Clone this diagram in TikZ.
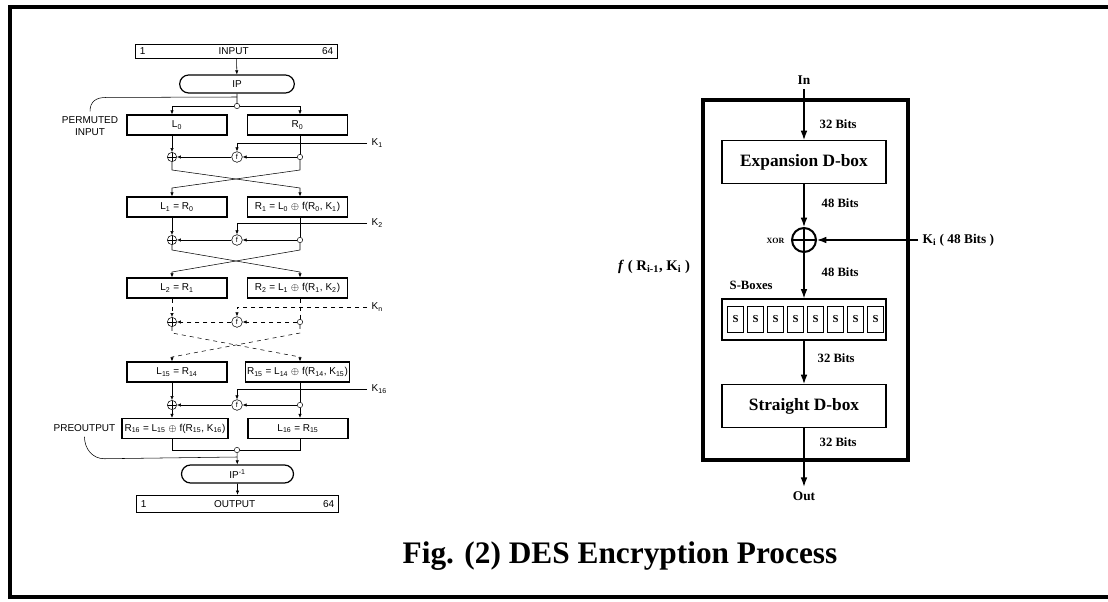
\documentclass[tikz,border=0pt]{standalone}
\usepackage{fontspec}
\setmainfont{Liberation Serif}
\setsansfont{Liberation Sans}
\usetikzlibrary{arrows.meta,shapes.misc}

\begin{document}
\begin{tikzpicture}[x=0.75pt,y=-0.75pt,
  blk/.style={draw, line width=0.9pt, minimum width=75pt, minimum height=15pt, inner sep=1pt, font=\sffamily\fontsize{7.5}{8}\selectfont},
  xr/.style={draw, circle, minimum size=7pt, inner sep=0pt, path picture={\draw (path picture bounding box.north) -- (path picture bounding box.south) (path picture bounding box.west) -- (path picture bounding box.east);}},
  fn/.style={draw, circle, minimum size=8pt, inner sep=0pt, font=\sffamily\fontsize{5.5}{6}\selectfont},
  dot/.style={draw, circle, fill=white, minimum size=4pt, inner sep=0pt},
  lab/.style={font=\sffamily\fontsize{7.5}{9.5}\selectfont},
  sm/.style={-{Latex[length=3pt,width=2.5pt]}},
  big/.style={-{Latex[length=7pt,width=5pt]}, line width=0.9pt},
  dbox/.style={draw, line width=0.9pt, minimum width=123pt, minimum height=32pt, font=\bfseries\fontsize{13}{14}\selectfont},
  bits/.style={anchor=west, font=\bfseries\fontsize{9.5}{10}\selectfont},
  sb/.style={draw, line width=0.9pt, minimum width=12.5pt, minimum height=19pt, inner sep=0pt, font=\bfseries\fontsize{8}{8}\selectfont}]

\useasboundingbox (0,0) rectangle (1108,602);
\draw[line width=3pt] (9.5,7) rectangle (1120,597);

% left: the sixteen rounds
\coordinate (cl) at (172,0);
\coordinate (cr) at (300,0);
\node[blk, minimum width=151pt, minimum height=10pt, text width=145pt] (in) at (236.5,51.5) {1\hfill INPUT\hfill 64};
\node[blk, rounded rectangle, minimum width=88pt, minimum height=13.5pt] (ip) at (237,84) {IP};
\node[dot] (j0) at (237,106) {};
\coordinate (pj) at (237,97);
\node[lab, align=center] (pin) at (90,126) {PERMUTED\\INPUT};

\node[blk] (L0) at (177,125) {L\textsubscript{0}};
\node[blk] (R0) at (297.5,125) {R\textsubscript{0}};
\node[blk] (L1) at (177,207) {L\textsubscript{1} = R\textsubscript{0}};
\node[blk] (R1) at (297.5,207) {R\textsubscript{1} = L\textsubscript{0} $\oplus$ f(R\textsubscript{0}, K\textsubscript{1})};
\node[blk] (L2) at (177,288) {L\textsubscript{2} = R\textsubscript{1}};
\node[blk] (R2) at (297.5,288) {R\textsubscript{2} = L\textsubscript{1} $\oplus$ f(R\textsubscript{1}, K\textsubscript{2})};
\node[blk] (L15) at (177,372) {L\textsubscript{15} = R\textsubscript{14}};
\node[blk] (R15) at (297.5,372) {R\textsubscript{15} = L\textsubscript{14} $\oplus$ f(R\textsubscript{14}, K\textsubscript{15})};
\node[blk, minimum width=79.5pt] (R16) at (175,428.5) {R\textsubscript{16} = L\textsubscript{15} $\oplus$ f(R\textsubscript{15}, K\textsubscript{16})};
\node[blk] (L16) at (298,428.5) {L\textsubscript{16} = R\textsubscript{15}};
\node[lab, anchor=east] (pout) at (120,428.5) {PREOUTPUT};

\node[xr] (x1) at (172,157) {};
\node[fn] (f1) at (237,157) {f};
\node[dot] (d1) at (300,157) {};
\node[lab, anchor=west] (k1) at (367,143) {K\textsubscript{1}};
\node[xr] (x2) at (172,240) {};
\node[fn] (f2) at (237,240) {f};
\node[dot] (d2) at (300,240) {};
\node[lab, anchor=west] (k2) at (367,223) {K\textsubscript{2}};
\node[xr] (xn) at (172,322) {};
\node[fn] (fn) at (237,322) {f};
\node[dot] (dn) at (300,322) {};
\node[lab, anchor=west] (kn) at (367,307) {K\textsubscript{n}};
\node[xr] (x16) at (172,405) {};
\node[fn] (f16) at (237,405) {f};
\node[dot] (d16) at (300,405) {};
\node[lab, anchor=west] (k16) at (367,389) {K\textsubscript{16}};

\node[dot] (j1) at (237,450) {};
\coordinate (pk) at (237,457);
\node[blk, rounded rectangle, minimum width=86pt, minimum height=13.5pt] (ipi) at (237.5,474) {IP\textsuperscript{-1}};
\node[blk, minimum width=151pt, minimum height=13pt, text width=145pt] (out) at (237.5,504) {1\hfill OUTPUT\hfill 64};

\draw[sm] (in) -- (ip);
\draw (ip) -- (j0);
\draw[sm] (j0) -| (L0.north -| cl);
\draw[sm] (j0) -| (R0.north -| cr);
\draw (pin.north) .. controls +(0,-10) and +(-10,0) .. ++(16,-14) -- (pj);

% round 1
\draw[sm] (L0.south -| cl) -- (x1);
\draw (R0.south -| cr) -- (d1);
\draw[sm] (k1.west) -| (f1);
\draw[sm] (d1) -- (f1);
\draw[sm] (f1) -- (x1);
\draw[sm] (x1) -- ++(0,13) -- ++(128,18) -- (R1.north -| cr);
\draw[sm] (d1) -- ++(0,13) -- ++(-128,18) -- (L1.north -| cl);
% round 2
\draw[sm] (L1.south -| cl) -- (x2);
\draw (R1.south -| cr) -- (d2);
\draw[sm] (k2.west) -| (f2);
\draw[sm] (d2) -- (f2);
\draw[sm] (f2) -- (x2);
\draw[sm] (x2) -- ++(0,10) -- ++(128,22) -- (R2.north -| cr);
\draw[sm] (d2) -- ++(0,10) -- ++(-128,22) -- (L2.north -| cl);
% round n
\draw[sm, dashed] (L2.south -| cl) -- (xn);
\draw[dashed] (R2.south -| cr) -- (dn);
\draw[sm, dashed] (kn.west) -| (fn);
\draw[sm, dashed] (dn) -- (fn);
\draw[sm, dashed] (fn) -- (xn);
\draw[sm, dashed] (xn) -- ++(0,11) -- ++(128,24) -- (R15.north -| cr);
\draw[sm, dashed] (dn) -- ++(0,11) -- ++(-128,24) -- (L15.north -| cl);
% round 16
\draw[sm] (L15.south -| cl) -- (x16);
\draw (R15.south -| cr) -- (d16);
\draw[sm] (k16.west) -| (f16);
\draw[sm] (d16) -- (f16);
\draw[sm] (f16) -- (x16);
\draw[sm] (x16) -- (R16.north -| cl);
\draw[sm] (d16) -- (L16.north -| cr);

\draw (R16.south -| cl) |- (j1);
\draw (L16.south -| cr) |- (j1);
\draw[sm] (j1) -- (ipi);
\draw[sm] (ipi) -- (out);
\draw (pout.south) .. controls +(0,12) and +(-12,0) .. ++(20,22) -- (pk);

% right: the f function
\node[draw, line width=2.5pt, minimum width=153.75pt, minimum height=270pt] (fb) at (805.5,280) {};
\node[font=\bfseries\fontsize{10}{10}\selectfont] (fin) at (804,80) {In};
\node[dbox] (exp) at (804,162) {Expansion D-box};
\node[draw, circle, line width=1.5pt, minimum size=18pt, inner sep=0pt,
  path picture={\draw[line width=1.5pt] (path picture bounding box.north) -- (path picture bounding box.south) (path picture bounding box.west) -- (path picture bounding box.east);}] (xor) at (804,240) {};
\node[anchor=east, font=\bfseries\fontsize{6}{6}\selectfont] (xl) at (789,241) {XOR};
\node[anchor=west, font=\bfseries\fontsize{10}{10}\selectfont] (ki) at (918,240) {K\textsubscript{i} ( 48 Bits )};
\node[draw, line width=0.9pt, minimum width=123pt, minimum height=30.75pt] (sr) at (804,319.5) {};
\foreach \i in {0,...,7}
  \node[sb] (s\i) at (735.5+20*\i,319.5) {S};
\node[dbox] (str) at (804,406) {Straight D-box};
\node[font=\bfseries\fontsize{10}{10}\selectfont] (fout) at (804,496) {Out};
\node[font=\bfseries\fontsize{11}{11}\selectfont] (flab) at (654,267) {\textit{f} ( R\textsubscript{i-1}, K\textsubscript{i} )};
\node[bits] at (725,285) {S-Boxes};
\node[bits] at (815,124) {32 Bits};
\node[bits] at (817,203) {48 Bits};
\node[bits] at (817,272) {48 Bits};
\node[bits] at (813,358) {32 Bits};
\node[bits] at (815,442) {32 Bits};

\draw[big] (fin) -- (exp);
\draw[big] (exp) -- (xor);
\draw[big] (ki.west) -- (xor);
\draw[big] (xor) -- (sr);
\draw[big] (sr) -- (str);
\draw[big] (str) -- (fout);

\node[font=\bfseries\fontsize{23.5}{26}\selectfont] (cap) at (620,556) {Fig. (2) DES Encryption Process};
\end{tikzpicture}
\end{document}
